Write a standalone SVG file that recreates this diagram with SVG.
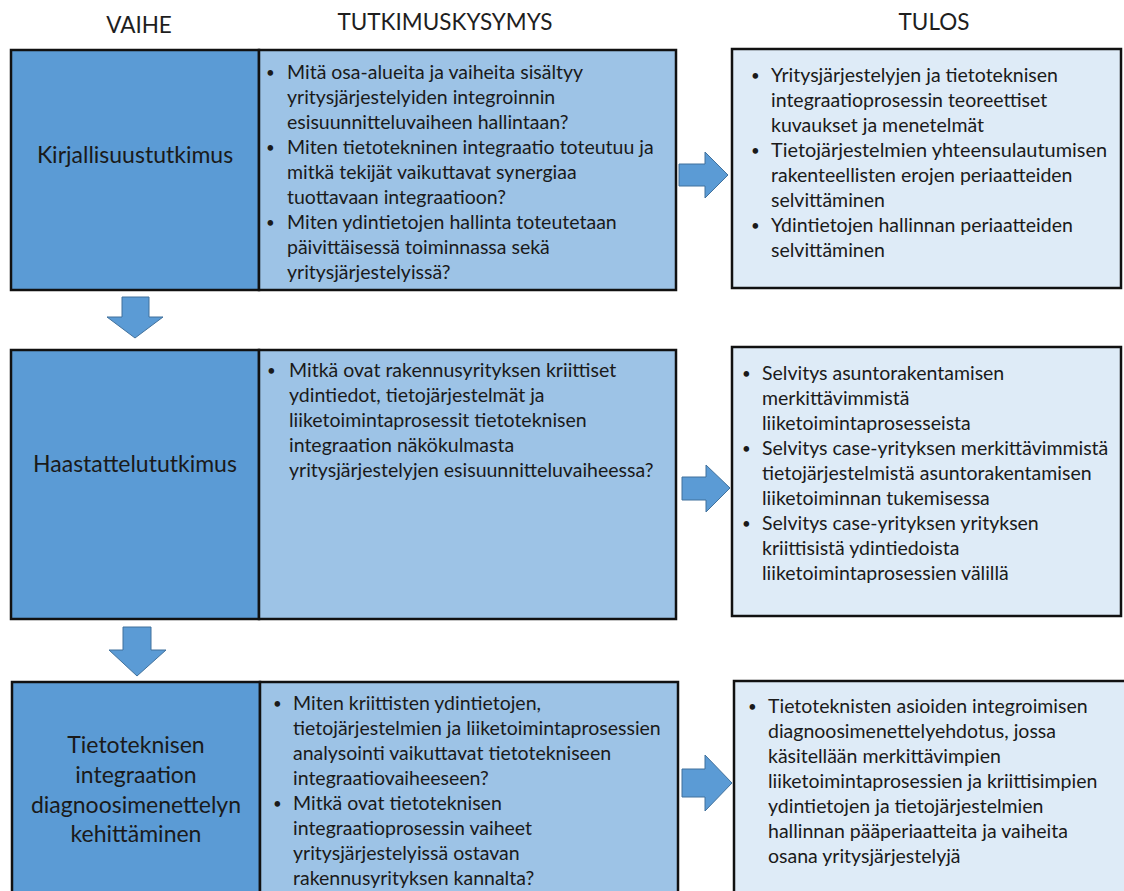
<svg xmlns="http://www.w3.org/2000/svg" width="1124" height="891" viewBox="0 0 1124 891">
  <style>
    .hdr { font-family: Lato, "Liberation Sans", sans-serif; font-size: 22.5px; fill: #1e1e1e; text-anchor: middle; }
    .phase { fill: #5b9bd5; stroke: #111; stroke-width: 2.5; }
    .question { fill: #9dc3e6; stroke: #111; stroke-width: 2.5; }
    .result { fill: #deebf7; stroke: #111; stroke-width: 2.5; }
    .lbl { font-family: Lato, "Liberation Sans", sans-serif; font-size: 23px; fill: #1a1a1a; text-anchor: middle; }
    .txt { font-family: Lato, "Liberation Sans", sans-serif; font-size: 19.5px; fill: #1a1a1a; }
    .txt .b { font-size: 15px; }
    .arrow { fill: #5b9bd5; stroke: #41719c; stroke-width: 1; }
  </style>

  <!-- column headers -->
  <g id="headers">
    <text class="hdr" x="139" y="33">VAIHE</text>
    <text class="hdr" x="445" y="30">TUTKIMUSKYSYMYS</text>
    <text class="hdr" x="934" y="30">TULOS</text>
  </g>

  <!-- row 1 -->
  <g id="phase1">
    <rect class="phase" x="11" y="50" width="248" height="240"/>
    <text class="lbl" x="135" y="163">Kirjallisuustutkimus</text>
  </g>
  <g id="questions1">
    <rect class="question" x="259" y="50" width="417" height="240"/>
    <g class="txt">
      <text class="b" x="266" y="78">•</text>
      <text x="287" y="79">Mitä osa-alueita ja vaiheita sisältyy</text>
      <text x="287" y="104">yritysjärjestelyiden integroinnin</text>
      <text x="287" y="129">esisuunnitteluvaiheen hallintaan?</text>
      <text class="b" x="266" y="153">•</text>
      <text x="287" y="154">Miten tietotekninen integraatio toteutuu ja</text>
      <text x="287" y="179">mitkä tekijät vaikuttavat synergiaa</text>
      <text x="287" y="204">tuottavaan integraatioon?</text>
      <text class="b" x="266" y="228">•</text>
      <text x="287" y="229">Miten ydintietojen hallinta toteutetaan</text>
      <text x="287" y="254">päivittäisessä toiminnassa sekä</text>
      <text x="287" y="279">yritysjärjestelyissä?</text>
    </g>
  </g>
  <g id="result1">
    <rect class="result" x="732" y="49" width="389" height="239"/>
    <g class="txt">
      <text class="b" x="751" y="81">•</text>
      <text x="771" y="82">Yritysjärjestelyjen ja tietoteknisen</text>
      <text x="771" y="107">integraatioprosessin teoreettiset</text>
      <text x="771" y="132">kuvaukset ja menetelmät</text>
      <text class="b" x="751" y="156">•</text>
      <text x="771" y="157" textLength="336" lengthAdjust="spacingAndGlyphs">Tietojärjestelmien yhteensulautumisen</text>
      <text x="771" y="182">rakenteellisten erojen periaatteiden</text>
      <text x="771" y="207">selvittäminen</text>
      <text class="b" x="751" y="231">•</text>
      <text x="771" y="232">Ydintietojen hallinnan periaatteiden</text>
      <text x="771" y="257">selvittäminen</text>
    </g>
  </g>

  <!-- row 2 -->
  <g id="phase2">
    <rect class="phase" x="11" y="350" width="248" height="269"/>
    <text class="lbl" x="135" y="472">Haastattelututkimus</text>
  </g>
  <g id="questions2">
    <rect class="question" x="259" y="350" width="417" height="269"/>
    <g class="txt">
      <text class="b" x="267" y="376">•</text>
      <text x="289" y="377">Mitkä ovat rakennusyrityksen kriittiset</text>
      <text x="289" y="402">ydintiedot, tietojärjestelmät ja</text>
      <text x="289" y="427">liiketoimintaprosessit tietoteknisen</text>
      <text x="289" y="452">integraation näkökulmasta</text>
      <text x="289" y="477">yritysjärjestelyjen esisuunnitteluvaiheessa?</text>
    </g>
  </g>
  <g id="result2">
    <rect class="result" x="732" y="347" width="389" height="269"/>
    <g class="txt">
      <text class="b" x="742" y="379">•</text>
      <text x="762" y="380">Selvitys asuntorakentamisen</text>
      <text x="762" y="405">merkittävimmistä</text>
      <text x="762" y="430">liiketoimintaprosesseista</text>
      <text class="b" x="742" y="454">•</text>
      <text x="762" y="455">Selvitys case-yrityksen merkittävimmistä</text>
      <text x="762" y="480">tietojärjestelmistä asuntorakentamisen</text>
      <text x="762" y="505">liiketoiminnan tukemisessa</text>
      <text class="b" x="742" y="529">•</text>
      <text x="762" y="530">Selvitys case-yrityksen yrityksen</text>
      <text x="762" y="555">kriittisistä ydintiedoista</text>
      <text x="762" y="580">liiketoimintaprosessien välillä</text>
    </g>
  </g>

  <!-- row 3 (runs past the lower edge) -->
  <g id="phase3">
    <rect class="phase" x="12" y="682" width="248" height="230"/>
    <text class="lbl" x="136" y="753">Tietoteknisen</text>
    <text class="lbl" x="136" y="783">integraation</text>
    <text class="lbl" x="136" y="813">diagnoosimenettelyn</text>
    <text class="lbl" x="136" y="842">kehittäminen</text>
  </g>
  <g id="questions3">
    <rect class="question" x="260" y="682" width="418" height="230"/>
    <g class="txt">
      <text class="b" x="273" y="709">•</text>
      <text x="293" y="710">Miten kriittisten ydintietojen,</text>
      <text x="293" y="735">tietojärjestelmien ja liiketoimintaprosessien</text>
      <text x="293" y="760">analysointi vaikuttavat tietotekniseen</text>
      <text x="293" y="785">integraatiovaiheeseen?</text>
      <text class="b" x="273" y="809">•</text>
      <text x="293" y="810">Mitkä ovat tietoteknisen</text>
      <text x="293" y="835">integraatioprosessin vaiheet</text>
      <text x="293" y="860">yritysjärjestelyissä ostavan</text>
      <text x="293" y="885">rakennusyrityksen kannalta?</text>
    </g>
  </g>
  <g id="result3">
    <rect class="result" x="734" y="681" width="400" height="230"/>
    <g class="txt">
      <text class="b" x="748" y="712">•</text>
      <text x="768" y="713">Tietoteknisten asioiden integroimisen</text>
      <text x="768" y="738">diagnoosimenettelyehdotus, jossa</text>
      <text x="768" y="763">käsitellään merkittävimpien</text>
      <text x="768" y="788">liiketoimintaprosessien ja kriittisimpien</text>
      <text x="768" y="813">ydintietojen ja tietojärjestelmien</text>
      <text x="768" y="838">hallinnan pääperiaatteita ja vaiheita</text>
      <text x="768" y="863">osana yritysjärjestelyjä</text>
    </g>
  </g>

  <!-- block arrows -->
  <g id="connectors">
    <path class="arrow" d="M679,164 H705 V152 L728,175 L705,198 V186 H679 Z"/>
    <path class="arrow" d="M682,477 H706 V465 L730,488 L706,512 V500 H682 Z"/>
    <path class="arrow" d="M682,769 H705 V755 L732,783 L705,811 V797 H682 Z"/>
    <path class="arrow" d="M122,297 H149 V317 H163 L135,338 L107,317 H122 Z"/>
    <path class="arrow" d="M123,627 H151 V650 H166 L137,676 L109,650 H123 Z"/>
  </g>
</svg>
